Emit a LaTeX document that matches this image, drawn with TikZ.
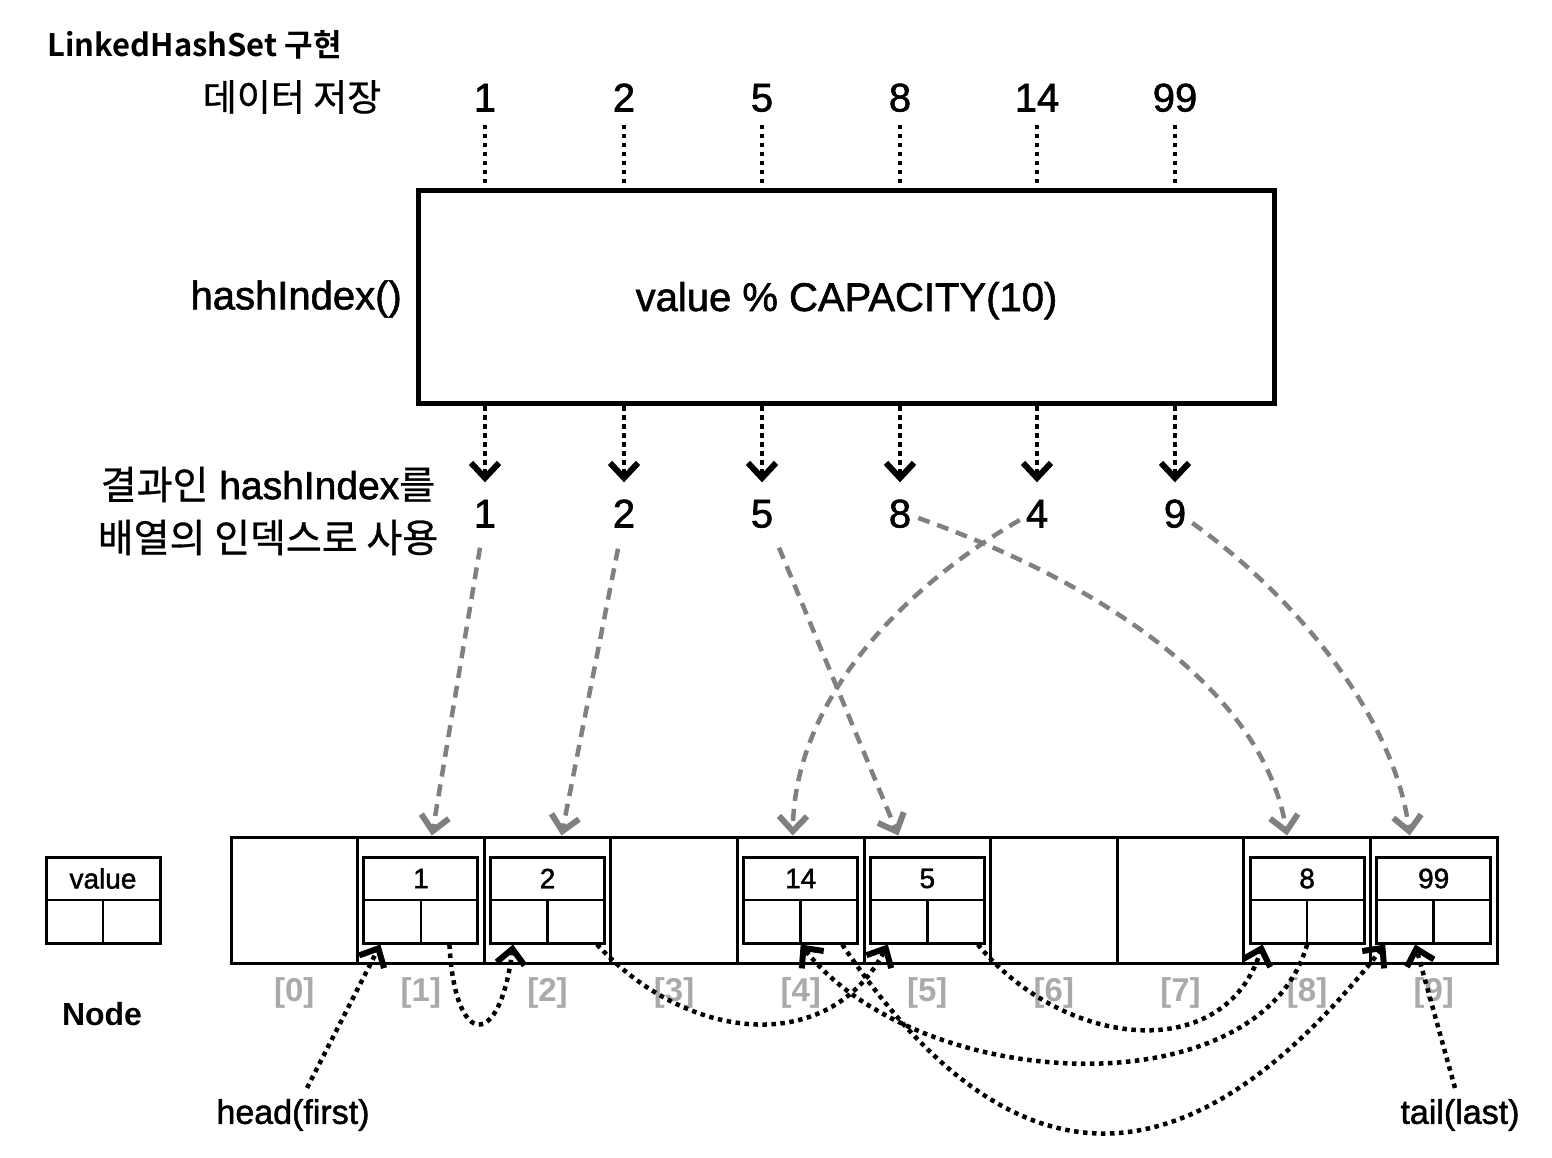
\documentclass[tikz,border=0pt]{standalone}
\usepackage{fontspec}
\setmainfont{Liberation Sans}[UprightFeatures={FakeBold=1.5}]
\newfontfamily\krfont{Noto Sans CJK KR}[UprightFeatures={FakeBold=0.8}, BoldFont={Noto Sans CJK KR Bold}]
\usetikzlibrary{arrows.meta}
\definecolor{linkgray}{RGB}{128,128,128}
\definecolor{idxgray}{RGB}{170,170,170}
\begin{document}
\begin{tikzpicture}
[x=1pt,y=-1pt,
 numtxt/.style={font=\fontsize{40}{44}\selectfont, inner sep=0pt, text height=29pt, text depth=0pt},
 lbltxt/.style={font=\fontsize{34}{38}\selectfont, inner sep=2pt},
 dotline/.style={line width=4.5pt, dash pattern=on 4.5pt off 4.5pt},
 dotarrow/.style={dotline, -{Straight Barb[length=15pt,width=28pt,line width=6pt]}},
 hashline/.style={linkgray, line width=4.5pt, dash pattern=on 12pt off 8pt, -{Straight Barb[length=15pt,width=28pt,line width=6pt]}},
 cellbox/.style={draw, line width=3pt, minimum width=126.6pt, minimum height=126pt, inner sep=0pt},
 nodebox/.style={draw, line width=3pt, minimum width=114pt, minimum height=86pt, inner sep=0pt},
 idxtxt/.style={idxgray, font=\bfseries\fontsize{33}{36}\selectfont},
 valtxt/.style={font=\fontsize{28}{30}\selectfont}]
\useasboundingbox (0,0) rectangle (1552,1158);
%% titles and labels
\node[anchor=west, font=\krfont\bfseries\fontsize{31}{34}\selectfont] (title) at (44,45) {LinkedHashSet 구현};
\node[font=\krfont\fontsize{37}{40}\selectfont] (storelbl) at (292,97) {데이터 저장};
\node[anchor=east, font=\fontsize{40}{44}\selectfont, inner sep=0pt] (hashlbl) at (402,299) {hashIndex()};
\node[align=center, font=\fontsize{39}{53}\selectfont] (resultlbl) at (268,511)
  {{\krfont 결과인} hashIndex{\krfont 를}\\{\krfont 배열의 인덱스로 사용}};
%% hash function box
\node[draw, line width=5pt, minimum width=856pt, minimum height=213pt, text height=28pt, text depth=0pt,
  font=\fontsize{40}{44}\selectfont] (hashbox) at (846.5,297) {value \% CAPACITY(10)};
%% input values and hash results
\foreach \x/\v/\r in {485/1/1, 624/2/2, 762/5/5, 900/8/8, 1037/14/4, 1175/99/9} {
  \node[numtxt] (in\v) at (\x,97) {\v};
  \node[numtxt] (out\v) at (\x,513) {\r};
  \draw[dotline] ([yshift=-13pt]in\v.south) -- (in\v |- hashbox.north);
  \draw[dotarrow] (out\v |- hashbox.south) -- ([yshift=16pt]out\v.north);
}
%% array cells
\foreach \i in {0,...,9} {
  \node[cellbox] (c\i) at (294.3+126.6*\i,900) {};
  \node[idxtxt] (idx\i) at (294.3+126.6*\i,993) {[\i]};
}
%% linked nodes in the cells
\foreach \i/\v in {1/1, 2/2, 4/14, 5/5, 8/8, 9/99} {
  \node[nodebox] (n\v) at (c\i) {};
  \draw[line width=2.5pt] (n\v.west) -- (n\v.east);
  \draw[line width=2.5pt] (n\v.center) -- (n\v.south);
  \node[valtxt] (v\v) at ([yshift=21.5pt]n\v.center) {\v};
}
%% legend
\node[nodebox] (nodelgd) at (103,900) {};
\draw[line width=2.5pt] (nodelgd.west) -- (nodelgd.east);
\draw[line width=2.5pt] (nodelgd.center) -- (nodelgd.south);
\node[font=\fontsize{28}{30}\selectfont] (lgdval) at ([yshift=21.5pt]nodelgd.center) {value};
\node[font=\bfseries\fontsize{32}{36}\selectfont] (nodelbl) at (102,1014) {Node};
%% hashIndex to array
\draw[hashline] ([shift={(-5,20)}]out1.south) -- ([xshift=11pt]c1.north);
\draw[hashline] ([shift={(-6,21)}]out2.south) -- ([xshift=14pt]c2.north);
\draw[hashline] ([shift={(17,20)}]out5.south) -- ([xshift=-29pt]c5.north);
\draw[hashline] ([shift={(-6,7)}]out14.west) .. controls (900,590) and (795,700) .. ([xshift=-8pt]c4.north);
\draw[hashline] ([shift={(7,5)}]out8.east) .. controls (1120,590) and (1265,700) .. ([xshift=-20pt]c8.north);
\draw[hashline] ([shift={(6,10)}]out99.east) .. controls (1300,600) and (1395,720) .. ([xshift=-24pt]c9.north);
%% insertion order links
\node[lbltxt] (headlbl) at (293,1115) {head(first)};
\node[lbltxt] (taillbl) at (1460,1115) {tail(last)};
\draw[dotarrow] ([shift={(14,-9)}]headlbl.north) -- ([xshift=18pt]n1.south west);
\draw[dotarrow] ([xshift=87pt]n1.south west) .. controls (455,1050) and (500,1050) .. ([xshift=24pt]n2.south west);
\draw[dotarrow] ([xshift=108pt]n2.south west) .. controls (690,1045) and (830,1055) .. ([xshift=19pt]n5.south west);
\draw[dotarrow] ([xshift=109pt]n5.south west) .. controls (1065,1050) and (1225,1065) .. ([xshift=14pt]n8.south west);
\draw[dotarrow] (n8.south) .. controls (1260,1110) and (920,1095) .. (n14.south);
\draw[dotarrow] ([xshift=100pt]n14.south west) .. controls (1007,1189) and (1182,1202) .. ([xshift=10pt]n99.south west);
\draw[dotarrow] ([shift={(-5,-9)}]taillbl.north) -- ([xshift=40pt]n99.south west);
\end{tikzpicture}
\end{document}
